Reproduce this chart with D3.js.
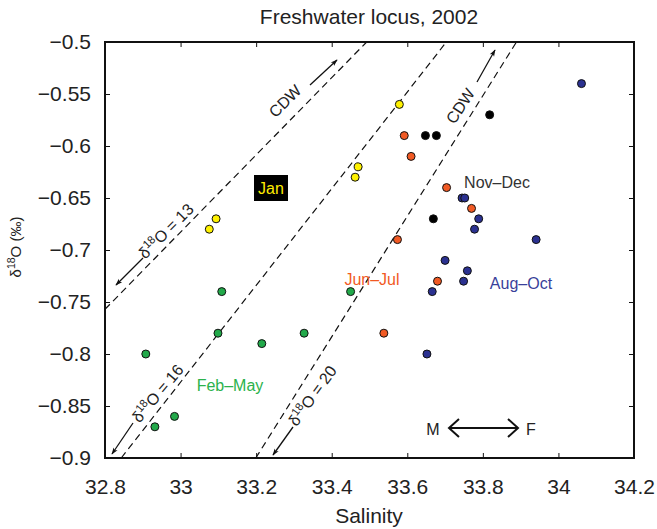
<!DOCTYPE html>
<html><head><meta charset="utf-8">
<script src="https://cdn.jsdelivr.net/npm/d3@7"></script>
<style>body{margin:0;background:#fff}svg{display:block}text{font-family:"Liberation Sans",Arial,sans-serif}</style>
</head><body>
<script>
// ---- data ----
const janS = [33.579, 33.470, 33.462, 33.094, 33.076];
const janD = [-0.56, -0.62, -0.63, -0.67, -0.68];
const febMayS = [33.109, 33.450, 33.099, 33.327, 33.215, 32.908, 32.984, 32.932];
const febMayD = [-0.74, -0.74, -0.78, -0.78, -0.79, -0.80, -0.86, -0.87];
const junJulS = [33.592, 33.610, 33.704, 33.770, 33.574, 33.680, 33.538];
const junJulD = [-0.59, -0.61, -0.64, -0.66, -0.69, -0.73, -0.78];
const augOctS = [34.061, 33.745, 33.752, 33.789, 33.778, 33.941, 33.700, 33.759, 33.749, 33.666, 33.652];
const augOctD = [-0.54, -0.65, -0.65, -0.67, -0.68, -0.69, -0.71, -0.72, -0.73, -0.74, -0.80];
const novDecS = [33.648, 33.677, 33.818, 33.669];
const novDecD = [-0.59, -0.59, -0.57, -0.67];
const lineNames = ["13", "16", "20"];
const lineS = [[32.8, 33.4925], [32.843, 33.7034], [33.199, 33.889]];
const lineD = [[-0.757, -0.5], [-0.9, -0.5], [-0.9, -0.5]];
const xTicks = [32.8, 33, 33.2, 33.4, 33.6, 33.8, 34, 34.2];
const yTicks = [-0.5, -0.55, -0.6, -0.65, -0.7, -0.75, -0.8, -0.85, -0.9];

const W = 657, H = 529;
const m = {l: 105, r: 23, t: 42, b: 71};
const pw = W - m.l - m.r, ph = H - m.t - m.b;
const svg = d3.select("body").append("svg").attr("width", W).attr("height", H);
const defs = svg.append("defs");
defs.append("marker").attr("id", "ah").attr("viewBox", "0 0 10 10").attr("refX", 9).attr("refY", 5)
  .attr("markerWidth", 9).attr("markerHeight", 7).attr("orient", "auto").attr("markerUnits", "userSpaceOnUse")
  .append("path").attr("d", "M0,1.5 L10,5 L0,8.5 L2.5,5 Z").attr("fill", "#111");
const g = svg.append("g").attr("transform", `translate(${m.l},${m.t})`);
const x = d3.scaleLinear().domain([32.8, 34.2]).range([0, pw]);
const y = d3.scaleLinear().domain([-0.9, -0.5]).range([ph, 0]);
const fmt = v => (v < 0 ? "\u2212" : "") + String(Math.abs(+v.toFixed(2)));

// axes (ticks inward on all four sides)
const ax = [
  [d3.axisBottom(x).tickValues(xTicks).tickFormat(d => String(+d.toFixed(1))).tickSize(-5).tickPadding(21), `translate(0,${ph})`],
  [d3.axisTop(x).tickValues(xTicks).tickFormat("").tickSize(-5), `translate(0,0)`],
  [d3.axisLeft(y).tickValues(yTicks).tickFormat(fmt).tickSize(-5).tickPadding(14), `translate(0,0)`],
  [d3.axisRight(y).tickValues(yTicks).tickFormat("").tickSize(-5), `translate(${pw},0)`]
];
ax.forEach(([a, t]) => {
  const gg = g.append("g").attr("transform", t).call(a);
  gg.select(".domain").remove();
  gg.selectAll(".tick line").attr("stroke", "#111").attr("stroke-width", 1);
  gg.selectAll(".tick text").attr("font-size", 21).attr("fill", "#222").attr("font-family", "Liberation Sans, Arial, sans-serif");
});
g.append("rect").attr("width", pw).attr("height", ph).attr("fill", "none").attr("stroke", "#111").attr("stroke-width", 2);

// dashed mixing lines
lineS.forEach((s, i) => {
  g.append("line").attr("x1", x(s[0])).attr("y1", y(lineD[i][0])).attr("x2", x(s[1])).attr("y2", y(lineD[i][1]))
    .attr("stroke", "#111").attr("stroke-width", 1.2).attr("stroke-dasharray", "7,4.5");
});

// points
const series = [
  [janS, janD, "#fff200"], [febMayS, febMayD, "#22a94a"], [junJulS, junJulD, "#f15a24"],
  [augOctS, augOctD, "#2b3190"], [novDecS, novDecD, "#000"]
];
series.forEach(([s, d, c]) => {
  g.selectAll(null).data(s.map((v, i) => [v, d[i]])).enter().append("circle")
    .attr("cx", p => x(p[0])).attr("cy", p => y(p[1])).attr("r", 4)
    .attr("fill", c).attr("stroke", "#111").attr("stroke-width", 1);
});

// annotations (page coordinates)
const ann = svg.append("g");
function arrow(x1, y1, x2, y2) {
  ann.append("line").attr("x1", x1).attr("y1", y1).attr("x2", x2).attr("y2", y2)
    .attr("stroke", "#111").attr("stroke-width", 1.3).attr("marker-end", "url(#ah)");
}
arrow(310, 85, 337, 60);
arrow(477, 82, 495, 50);
arrow(143, 258, 116, 285);
arrow(133, 423, 112, 454);
arrow(293, 427, 273, 455);

function rtext(cx, cy, ang, parts, size) {
  const t = ann.append("text").attr("transform", `translate(${cx},${cy}) rotate(${ang})`)
    .attr("text-anchor", "middle").attr("font-size", size).attr("fill", "#222");
  parts.forEach(p => {
    const ts = t.append("tspan").text(p[0]);
    if (p[1]) ts.attr("font-size", size * 0.7).attr("dy", -size * 0.38);
    if (p[2]) ts.attr("dy", size * 0.38);
  });
  return t;
}
rtext(289, 105, -45, [["CDW"]], 16);
rtext(465, 109, -57, [["CDW"]], 16);
lineNames.forEach((n, i) => {
  const pos = [[170, 235, -45], [162, 397, -50], [317, 399, -54]][i];
  rtext(pos[0], pos[1], pos[2], [["\u03b4"], ["18", true], ["O = " + n, false, true]], 16);
});

// season labels
ann.append("rect").attr("x", 254).attr("y", 175).attr("width", 34).attr("height", 26).attr("fill", "#000");
const lab = (tx, ty, s, c) => ann.append("text").attr("x", tx).attr("y", ty).attr("text-anchor", "middle")
  .attr("font-size", 16).attr("fill", c).text(s);
lab(271, 194, "Jan", "#ffec00");
lab(497, 188, "Nov\u2013Dec", "#333");
lab(372, 285, "Jun\u2013Jul", "#f15a24");
lab(521, 289, "Aug\u2013Oct", "#3a3f9a");
lab(230, 391, "Feb\u2013May", "#2bb24c");

// M <-> F
lab(433, 435, "M", "#222");
lab(531, 435, "F", "#222");
ann.append("line").attr("x1", 450).attr("y1", 428).attr("x2", 517).attr("y2", 428).attr("stroke", "#111").attr("stroke-width", 2);
ann.append("path").attr("d", "M459,419 L449,428 L459,437 M508,419 L518,428 L508,437")
  .attr("fill", "none").attr("stroke", "#111").attr("stroke-width", 2);

// titles
svg.append("text").attr("x", 369).attr("y", 24).attr("text-anchor", "middle").attr("font-size", 21).attr("fill", "#222").text("Freshwater locus, 2002");
svg.append("text").attr("x", 369).attr("y", 523).attr("text-anchor", "middle").attr("font-size", 21).attr("fill", "#222").text("Salinity");
const yl = svg.append("text").attr("transform", "translate(21,247) rotate(-90)").attr("text-anchor", "middle").attr("font-size", 15).attr("fill", "#222");
yl.append("tspan").text("\u03b4");
yl.append("tspan").text("18").attr("font-size", 10.5).attr("dy", -6);
yl.append("tspan").text("O (\u2030)").attr("dy", 6);
</script>
</body></html>
